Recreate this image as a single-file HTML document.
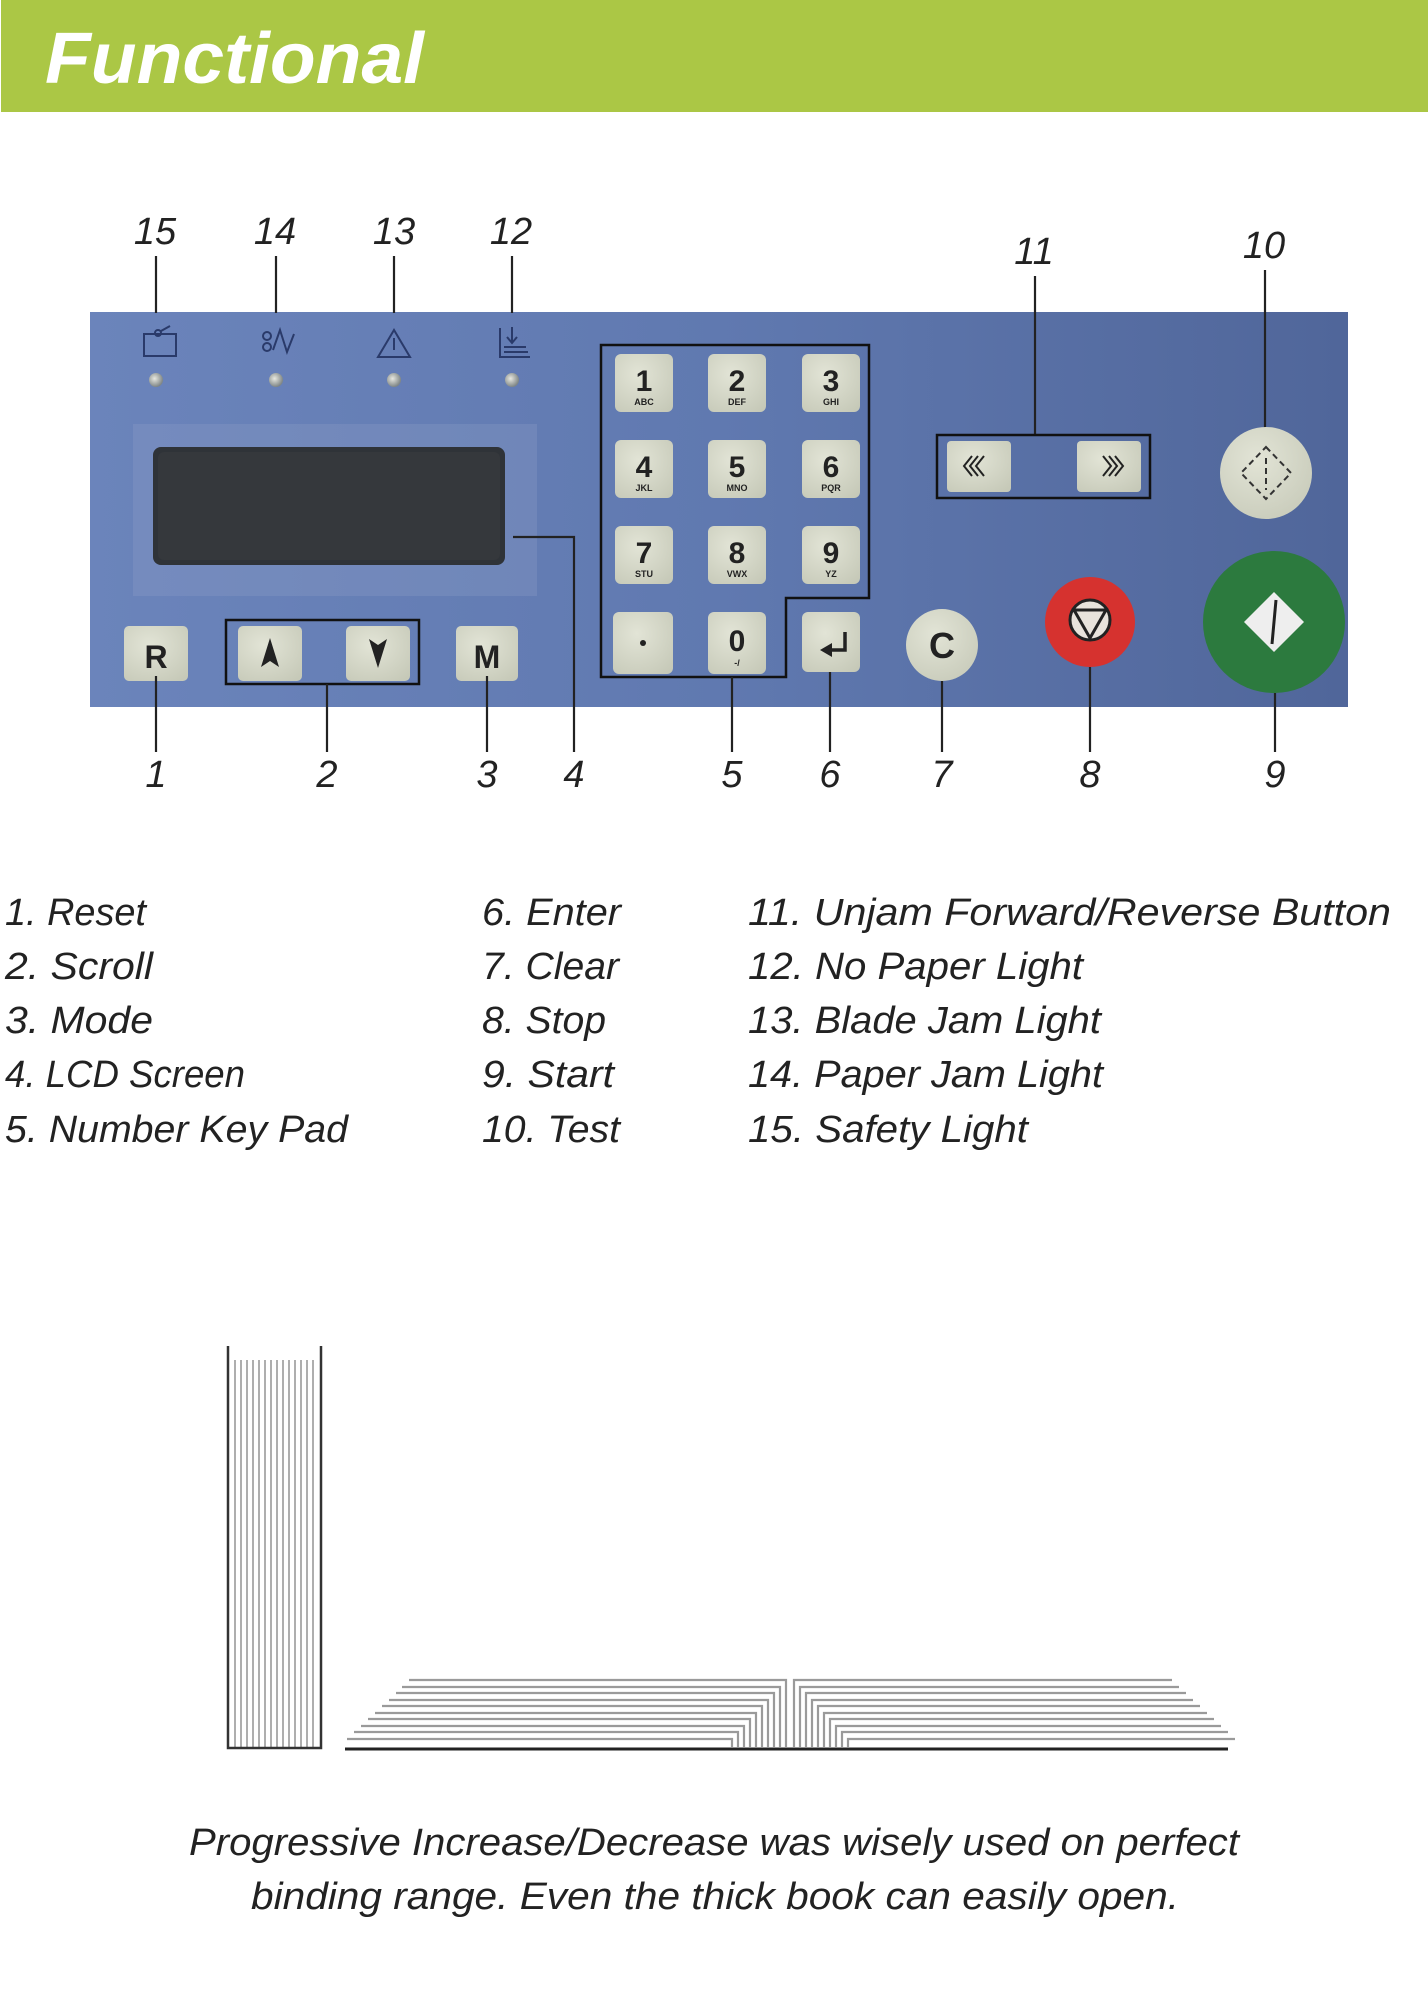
<!DOCTYPE html>
<html><head><meta charset="utf-8"><style>
html,body{margin:0;padding:0;background:#fff;}
svg{display:block;}
text{font-family:"Liberation Sans",sans-serif;}
</style></head><body>
<svg width="1428" height="2004" viewBox="0 0 1428 2004" xmlns="http://www.w3.org/2000/svg">
<defs>
<linearGradient id="pg" x1="0" y1="0" x2="1" y2="0">
<stop offset="0" stop-color="#6b84bb"/><stop offset="0.5" stop-color="#6079b0"/><stop offset="1" stop-color="#50669a"/>
</linearGradient>
<radialGradient id="key" cx="0.4" cy="0.35" r="0.8"><stop offset="0" stop-color="#e2e4d6"/><stop offset="1" stop-color="#c6c9b8"/></radialGradient>
<radialGradient id="led" cx="0.4" cy="0.4" r="0.6"><stop offset="0" stop-color="#e8e8e0"/><stop offset="1" stop-color="#7f8686"/></radialGradient>
</defs>
<rect x="1" y="0" width="1427" height="112" fill="#abc745"/>
<text x="45" y="83" font-size="72" font-weight="bold" font-style="italic" fill="#fff" textLength="379" lengthAdjust="spacingAndGlyphs">Functional</text>

<rect x="90" y="312" width="1258" height="395" fill="url(#pg)"/>

<g font-size="38" font-style="italic" fill="#222" text-anchor="middle">
<text x="155" y="244">15</text><text x="275" y="244">14</text><text x="394" y="244">13</text><text x="511" y="244">12</text>
<text x="1034" y="264">11</text><text x="1264" y="258">10</text>
</g>
<g stroke="#222" stroke-width="2.2" fill="none">
<line x1="156" y1="256" x2="156" y2="313"/><line x1="276" y1="256" x2="276" y2="313"/>
<line x1="394" y1="256" x2="394" y2="313"/><line x1="512" y1="256" x2="512" y2="313"/>
<line x1="1035" y1="276" x2="1035" y2="435"/><line x1="1265" y1="270" x2="1265" y2="428"/>
</g>

<g stroke="#2a3a6a" stroke-width="2" fill="none">
<rect x="144" y="334" width="32" height="22"/><circle cx="158" cy="333" r="3"/><line x1="161" y1="331" x2="170" y2="326"/>
<circle cx="267" cy="336" r="4"/><circle cx="267" cy="347" r="4"/><path d="M273 350 L280 330 L287 352 L294 334"/>
<path d="M394 330 L378 357 L410 357 Z"/><line x1="394" y1="338" x2="394" y2="350"/>
<path d="M500 328 L500 357 L530 357 M504 352 L528 352 M504 347 L526 347 M512 327 L512 342 M507 337 L512 343 L517 337"/>
</g>
<g>
<circle cx="156" cy="380" r="7" fill="url(#led)"/><circle cx="276" cy="380" r="7" fill="url(#led)"/>
<circle cx="394" cy="380" r="7" fill="url(#led)"/><circle cx="512" cy="380" r="7" fill="url(#led)"/>
</g>

<rect x="133" y="424" width="404" height="172" fill="#8ea0c8" opacity="0.3"/>
<rect x="153" y="447" width="352" height="118" rx="8" fill="#2f3338"/>
<rect x="158" y="452" width="342" height="108" rx="6" fill="#35383c"/>

<g font-weight="bold" fill="#222">
<rect x="124" y="626" width="64" height="55" rx="5" fill="url(#key)"/>
<text x="156" y="668" font-size="32" text-anchor="middle">R</text>
<rect x="238" y="626" width="64" height="55" rx="5" fill="url(#key)"/>
<path d="M270 638 L261 667 L270 661 L279 667 Z" fill="#222"/>
<rect x="346" y="626" width="64" height="55" rx="5" fill="url(#key)"/>
<path d="M378 668 L369 639 L378 645 L387 639 Z" fill="#222"/>
<rect x="456" y="626" width="62" height="55" rx="5" fill="url(#key)"/>
<text x="487" y="668" font-size="32" text-anchor="middle">M</text>
</g>
<rect x="226" y="620" width="193" height="64" fill="none" stroke="#111" stroke-width="2.5"/>

<path d="M601 345 L869 345 L869 598 L786 598 L786 677 L601 677 Z" fill="none" stroke="#111" stroke-width="2.5"/>
<g font-weight="bold" fill="#222" text-anchor="middle">
<rect x="615" y="354" width="58" height="58" rx="6" fill="url(#key)"/><text x="644" y="391" font-size="30">1</text><text x="644" y="405" font-size="9">ABC</text>
<rect x="708" y="354" width="58" height="58" rx="6" fill="url(#key)"/><text x="737" y="391" font-size="30">2</text><text x="737" y="405" font-size="9">DEF</text>
<rect x="802" y="354" width="58" height="58" rx="6" fill="url(#key)"/><text x="831" y="391" font-size="30">3</text><text x="831" y="405" font-size="9">GHI</text>
<rect x="615" y="440" width="58" height="58" rx="6" fill="url(#key)"/><text x="644" y="477" font-size="30">4</text><text x="644" y="491" font-size="9">JKL</text>
<rect x="708" y="440" width="58" height="58" rx="6" fill="url(#key)"/><text x="737" y="477" font-size="30">5</text><text x="737" y="491" font-size="9">MNO</text>
<rect x="802" y="440" width="58" height="58" rx="6" fill="url(#key)"/><text x="831" y="477" font-size="30">6</text><text x="831" y="491" font-size="9">PQR</text>
<rect x="615" y="526" width="58" height="58" rx="6" fill="url(#key)"/><text x="644" y="563" font-size="30">7</text><text x="644" y="577" font-size="9">STU</text>
<rect x="708" y="526" width="58" height="58" rx="6" fill="url(#key)"/><text x="737" y="563" font-size="30">8</text><text x="737" y="577" font-size="9">VWX</text>
<rect x="802" y="526" width="58" height="58" rx="6" fill="url(#key)"/><text x="831" y="563" font-size="30">9</text><text x="831" y="577" font-size="9">YZ</text>
<rect x="613" y="612" width="60" height="62" rx="6" fill="url(#key)"/><circle cx="643" cy="643" r="3" fill="#222"/>
<rect x="708" y="612" width="58" height="62" rx="6" fill="url(#key)"/><text x="737" y="651" font-size="30">0</text><text x="737" y="666" font-size="9">-/</text>
<rect x="802" y="612" width="58" height="60" rx="6" fill="url(#key)"/>
<path d="M845 632 L845 650 L828 650" stroke="#222" stroke-width="3.5" fill="none"/>
<path d="M832 643 L820 650 L832 657 Z" fill="#222"/>
</g>

<rect x="937" y="435" width="213" height="63" fill="none" stroke="#111" stroke-width="2.5"/>
<rect x="947" y="441" width="64" height="51" rx="4" fill="url(#key)"/>
<rect x="1077" y="441" width="64" height="51" rx="4" fill="url(#key)"/>
<g stroke="#222" stroke-width="2" fill="none">
<path d="M972 456 L964 466 L972 476 M978 456 L970 466 L978 476 M984 456 L976 466 L984 476"/>
<path d="M1103 456 L1111 466 L1103 476 M1109 456 L1117 466 L1109 476 M1115 456 L1123 466 L1115 476"/>
</g>

<circle cx="1266" cy="473" r="46" fill="url(#key)"/>
<path d="M1266 447 L1291 473 L1266 499 L1241 473 Z M1266 458 L1266 490" stroke="#333" stroke-width="2" stroke-dasharray="6 4" fill="none"/>

<circle cx="942" cy="645" r="36" fill="url(#key)"/>
<text x="942" y="658" font-size="36" font-weight="bold" fill="#222" text-anchor="middle">C</text>
<circle cx="1090" cy="622" r="45" fill="#d6322f"/>
<circle cx="1090" cy="620" r="20" fill="#e8e3dc" stroke="#222" stroke-width="3"/>
<path d="M1074 610 L1106 610 L1090 638 Z" fill="none" stroke="#222" stroke-width="3"/>
<circle cx="1274" cy="622" r="71" fill="#2c7a3e"/>
<path d="M1274 592 L1304 622 L1274 652 L1244 622 Z" fill="#eee"/>
<line x1="1276" y1="600" x2="1272" y2="644" stroke="#222" stroke-width="3"/>

<g stroke="#222" stroke-width="2.2" fill="none">
<line x1="156" y1="676" x2="156" y2="752"/>
<line x1="327" y1="684" x2="327" y2="752"/>
<line x1="487" y1="676" x2="487" y2="752"/>
<path d="M513 537 L574 537 L574 752"/>
<line x1="732" y1="677" x2="732" y2="752"/>
<line x1="830" y1="672" x2="830" y2="752"/>
<line x1="942" y1="681" x2="942" y2="752"/>
<line x1="1090" y1="667" x2="1090" y2="752"/>
<line x1="1275" y1="693" x2="1275" y2="752"/>
</g>
<g font-size="38" font-style="italic" fill="#222" text-anchor="middle">
<text x="156" y="787">1</text><text x="327" y="787">2</text><text x="487" y="787">3</text><text x="574" y="787">4</text>
<text x="732" y="787">5</text><text x="830" y="787">6</text><text x="942" y="787">7</text><text x="1090" y="787">8</text><text x="1275" y="787">9</text>
</g>

<g font-size="38" font-style="italic" fill="#222" lengthAdjust="spacingAndGlyphs">
<text x="5" y="925" textLength="141" lengthAdjust="spacingAndGlyphs">1. Reset</text>
<text x="5" y="979" textLength="148" lengthAdjust="spacingAndGlyphs">2. Scroll</text>
<text x="5" y="1033" textLength="148" lengthAdjust="spacingAndGlyphs">3. Mode</text>
<text x="5" y="1087" textLength="240" lengthAdjust="spacingAndGlyphs">4. LCD Screen</text>
<text x="5" y="1142" textLength="343" lengthAdjust="spacingAndGlyphs">5. Number Key Pad</text>
<text x="482" y="925" textLength="139" lengthAdjust="spacingAndGlyphs">6. Enter</text>
<text x="482" y="979" textLength="137" lengthAdjust="spacingAndGlyphs">7. Clear</text>
<text x="482" y="1033" textLength="124" lengthAdjust="spacingAndGlyphs">8. Stop</text>
<text x="482" y="1087" textLength="132" lengthAdjust="spacingAndGlyphs">9. Start</text>
<text x="482" y="1142" textLength="138" lengthAdjust="spacingAndGlyphs">10. Test</text>
<text x="748" y="925" textLength="643" lengthAdjust="spacingAndGlyphs">11. Unjam Forward/Reverse Button</text>
<text x="748" y="979" textLength="335" lengthAdjust="spacingAndGlyphs">12. No Paper Light</text>
<text x="748" y="1033" textLength="353" lengthAdjust="spacingAndGlyphs">13. Blade Jam Light</text>
<text x="748" y="1087" textLength="355" lengthAdjust="spacingAndGlyphs">14. Paper Jam Light</text>
<text x="748" y="1142" textLength="280" lengthAdjust="spacingAndGlyphs">15. Safety Light</text>
</g>

<g stroke="#9a9a9a" stroke-width="1.6" fill="none">
<line x1="235" y1="1360" x2="235" y2="1747"/><line x1="241" y1="1360" x2="241" y2="1747"/>
<line x1="247" y1="1360" x2="247" y2="1747"/><line x1="253" y1="1360" x2="253" y2="1747"/>
<line x1="259" y1="1360" x2="259" y2="1747"/><line x1="265" y1="1360" x2="265" y2="1747"/>
<line x1="271" y1="1360" x2="271" y2="1747"/><line x1="277" y1="1360" x2="277" y2="1747"/>
<line x1="283" y1="1360" x2="283" y2="1747"/><line x1="289" y1="1360" x2="289" y2="1747"/>
<line x1="295" y1="1360" x2="295" y2="1747"/><line x1="301" y1="1360" x2="301" y2="1747"/>
<line x1="307" y1="1360" x2="307" y2="1747"/><line x1="313" y1="1360" x2="313" y2="1747"/>
</g>
<path d="M228 1346 L228 1748 L321 1748 L321 1346" stroke="#333" stroke-width="2.5" fill="none"/>

<g stroke="#9a9a9a" stroke-width="2.2" fill="none">
<path d="M409 1680 H786 V1747 M794 1747 V1680 H1172"/>
<path d="M402 1687 H780 V1747 M800 1747 V1687 H1179"/>
<path d="M396 1693 H774 V1747 M806 1747 V1693 H1186"/>
<path d="M389 1700 H768 V1747 M812 1747 V1700 H1193"/>
<path d="M382 1706 H762 V1747 M818 1747 V1706 H1200"/>
<path d="M375 1713 H756 V1747 M824 1747 V1713 H1207"/>
<path d="M368 1719 H750 V1747 M830 1747 V1719 H1214"/>
<path d="M361 1726 H744 V1747 M836 1747 V1726 H1221"/>
<path d="M354 1732 H738 V1747 M842 1747 V1732 H1228"/>
<path d="M347 1739 H732 V1747 M848 1747 V1739 H1235"/>
</g>
<line x1="345" y1="1749" x2="1228" y2="1749" stroke="#222" stroke-width="3"/>

<g font-size="38" font-style="italic" fill="#222">
<text x="189" y="1855" textLength="1050" lengthAdjust="spacingAndGlyphs">Progressive Increase/Decrease was wisely used on perfect</text>
<text x="251" y="1909" textLength="928" lengthAdjust="spacingAndGlyphs">binding range. Even the thick book can easily open.</text>
</g>
</svg>
</body></html>
